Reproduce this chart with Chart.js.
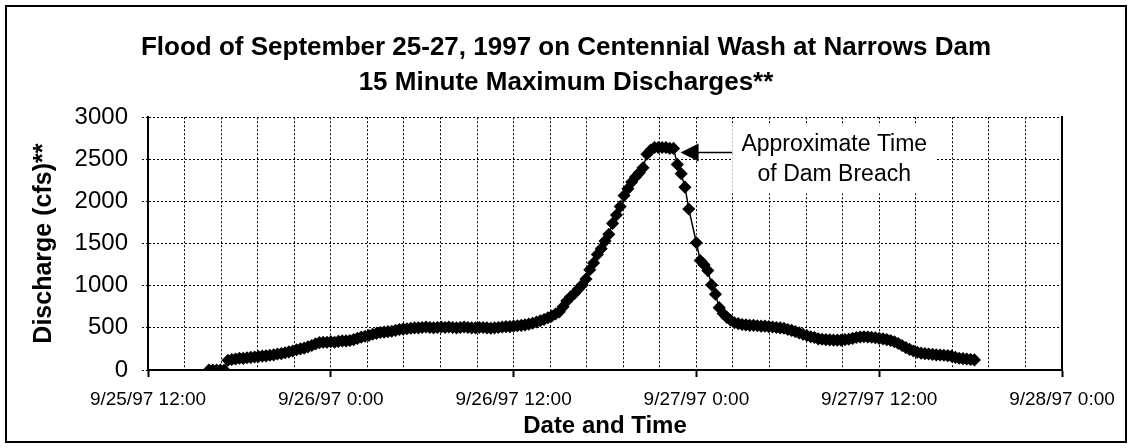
<!DOCTYPE html>
<html>
<head>
<meta charset="utf-8">
<title>Flood of September 25-27, 1997 on Centennial Wash at Narrows Dam</title>
<script src="https://cdn.jsdelivr.net/npm/chart.js@4.4.1/dist/chart.umd.min.js"></script>
<style>
  html, body { margin: 0; padding: 0; background: #fff; }
  canvas { display: block; }
</style>
</head>
<body>
<canvas id="floodChart" width="1132" height="448"></canvas>
<script>
// ----------------------------
// Data: 15 minute maximum discharges (cfs)
// hours are counted from 9/25/97 12:00
// ----------------------------
const firstReadingHour = 4;     // 9/25/97 16:00
const readingStepHours = 0.25;  // 15 minutes

// 9/25 16:00 - 23:45
const sep25 = [
  0, 0, 0, 0,
  0, 115, 125, 130,
  140, 138, 145, 150,
  155, 160, 165, 168,
  175, 180, 190, 195,
  205, 215, 225, 240,
  250, 260, 275, 290,
  310, 325, 330, 330
];

// 9/26 0:00 - 23:45
const sep26 = [
  335, 330, 340, 345,
  345, 350, 360, 375,
  390, 400, 410, 425,
  435, 445, 450, 455,
  460, 470, 480, 485,
  490, 495, 500, 500,
  505, 510, 505, 500,
  505, 510, 505, 510,
  505, 500, 505, 510,
  505, 500, 500, 505,
  505, 500, 495, 500,
  505, 510, 515, 515,
  520, 525, 530, 535,
  545, 555, 570, 585,
  600, 620, 640, 665,
  690, 750, 820, 870,
  910, 960, 1010, 1080,
  1190, 1270, 1370, 1440,
  1530, 1610, 1740, 1840,
  1940, 2070, 2150, 2230,
  2290, 2340, 2400, 2560,
  2610, 2640, 2640, 2640,
  2640, 2630, 2630, 2440,
  2330, 2170, 1910, null
];

// 9/27 0:00 - 18:15
const sep27 = [
  1510, 1300, 1250, 1180,
  1010, 900, 740, 670,
  625, 590, 560, 550,
  540, 535, 530, 530,
  525, 520, 520, 515,
  510, 505, 500, 495,
  480, 470, 455, 440,
  425, 410, 395, 385,
  370, 365, 360, 358,
  355, 354, 355, 360,
  365, 375, 385, 392,
  395, 392, 388, 383,
  375, 370, 360, 350,
  335, 315, 290, 265,
  245, 225, 210, 200,
  195, 190, 185, 180,
  178, 175, 170, 165,
  150, 140, 135, 130,
  125, 120
];

const xTickLabels = ["9/25/97 12:00", "9/26/97 0:00", "9/26/97 12:00", "9/27/97 0:00", "9/27/97 12:00", "9/28/97 0:00"];

// annotation
const breachHour = 34.5;
const breachArrowCfs = 2580;
const breachNoteAt = { hour: 45.05, cfs: 2500 };
const breachNoteText = ["Approximate Time", "of Dam Breach"];

const discharge = [...sep25, ...sep26, ...sep27];
const points = discharge.map((v, i) => ({ x: firstReadingHour + i * readingStepHours, y: v }));

const isMajor = (v) => Math.abs(v / 12 - Math.round(v / 12)) < 1e-6;

// ----------------------------
// Page frame + breach note
// ----------------------------
const frame = {
  id: "frame",
  beforeDraw(chart) {
    const { ctx } = chart;
    ctx.save();
    ctx.fillStyle = "#fff";
    ctx.fillRect(0, 0, chart.width, chart.height);
    ctx.restore();
  },
  afterDraw(chart) {
    const { ctx } = chart;
    ctx.save();
    ctx.strokeStyle = "#000";
    ctx.lineWidth = 2;
    ctx.strokeRect(6, 6, chart.width - 12, chart.height - 12);
    ctx.restore();
  }
};

const breachNote = {
  id: "breachNote",
  afterDatasetsDraw(chart) {
    const { ctx, scales: { x, y } } = chart;
    const cx = x.getPixelForValue(breachNoteAt.hour);
    const cy = y.getPixelForValue(breachNoteAt.cfs);
    const boxW = 204, boxH = 68;
    const boxLeft = cx - boxW / 2;

    ctx.save();
    ctx.fillStyle = "#fff";
    ctx.fillRect(boxLeft, cy - boxH / 2, boxW, boxH);

    ctx.fillStyle = "#000";
    ctx.font = "23px 'Liberation Sans', Arial, sans-serif";
    ctx.textAlign = "center";
    ctx.textBaseline = "middle";
    ctx.fillText(breachNoteText[0], cx, cy - 15);
    ctx.fillText(breachNoteText[1], cx, cy + 15);

    // arrow pointing at the breach reading
    const tipX = x.getPixelForValue(breachHour) + 7;
    const ay = y.getPixelForValue(breachArrowCfs);
    ctx.strokeStyle = "#000";
    ctx.lineWidth = 1.5;
    ctx.beginPath();
    ctx.moveTo(boxLeft, ay);
    ctx.lineTo(tipX + 16, ay);
    ctx.stroke();
    ctx.beginPath();
    ctx.moveTo(tipX, ay);
    ctx.lineTo(tipX + 18, ay - 9);
    ctx.lineTo(tipX + 18, ay + 9);
    ctx.closePath();
    ctx.fill();
    ctx.restore();
  }
};

// ----------------------------
// Chart
// ----------------------------
new Chart(document.getElementById("floodChart"), {
  type: "line",
  data: {
    datasets: [{
      label: "Discharge (cfs)",
      data: points,
      borderColor: "#000",
      borderWidth: 1.5,
      backgroundColor: "#000",
      pointStyle: "rectRot",
      pointRadius: 5.5,
      pointBorderWidth: 1.5,
      pointBackgroundColor: "#000",
      pointBorderColor: "#000",
      spanGaps: true,
      tension: 0
    }]
  },
  options: {
    responsive: false,
    animation: false,
    layout: { padding: { left: 0, right: 0, top: 0, bottom: 0 } },
    plugins: {
      legend: { display: false },
      tooltip: { enabled: false },
      title: {
        display: true,
        text: ["Flood of September 25-27, 1997 on Centennial Wash at Narrows Dam", "15 Minute Maximum Discharges**"],
        color: "#000",
        font: { family: "'Liberation Sans', Arial, sans-serif", size: 26, weight: "bold", lineHeight: 1.35 },
        padding: { top: 30, bottom: 17 }
      }
    },
    scales: {
      x: {
        type: "linear",
        min: 0,
        max: 60,
        afterFit: (s) => { s.height = 78; },
        ticks: {
          stepSize: 2.4,
          autoSkip: false,
          maxRotation: 0,
          padding: 11,
          color: "#000",
          font: { family: "'Liberation Sans', Arial, sans-serif", size: 19 },
          callback: (v) => isMajor(v) ? xTickLabels[Math.round(v / 12)] : ""
        },
        grid: {
          color: "#000",
          lineWidth: 1,
          tickLength: 7,
          tickWidth: 2,
          tickColor: (c) => (c.tick && isMajor(c.tick.value)) ? "#000" : "rgba(0,0,0,0)"
        },
        border: { display: true, color: "#000", width: 2, dash: [2, 2] },
        title: {
          display: true,
          text: "Date and Time",
          color: "#000",
          font: { family: "'Liberation Sans', Arial, sans-serif", size: 24, weight: "bold", lineHeight: 1.2 },
          padding: { top: 0, bottom: 7 }
        }
      },
      y: {
        min: 0,
        max: 3000,
        afterFit: (s) => { s.width = 148; },
        ticks: {
          stepSize: 500,
          padding: 14,
          color: "#000",
          font: { family: "'Liberation Sans', Arial, sans-serif", size: 24 },
          callback: (v) => String(v)
        },
        grid: { color: "#000", lineWidth: 1, tickLength: 6, tickBorderDash: [2, 2] },
        border: { display: true, color: "#000", width: 2, dash: [2, 2] },
        title: {
          display: true,
          text: "Discharge (cfs)**",
          color: "#000",
          font: { family: "'Liberation Sans', Arial, sans-serif", size: 25, weight: "bold", lineHeight: 1.2 },
          padding: { top: 29, bottom: 0 }
        }
      },
      yRight: {
        position: "right",
        min: 0,
        max: 3000,
        afterFit: (s) => { s.width = 70; },
        ticks: { display: false },
        grid: { display: false, drawTicks: false },
        border: { display: true, color: "#000", width: 2 }
      }
    }
  },
  plugins: [frame, breachNote]
});
</script>
</body>
</html>
